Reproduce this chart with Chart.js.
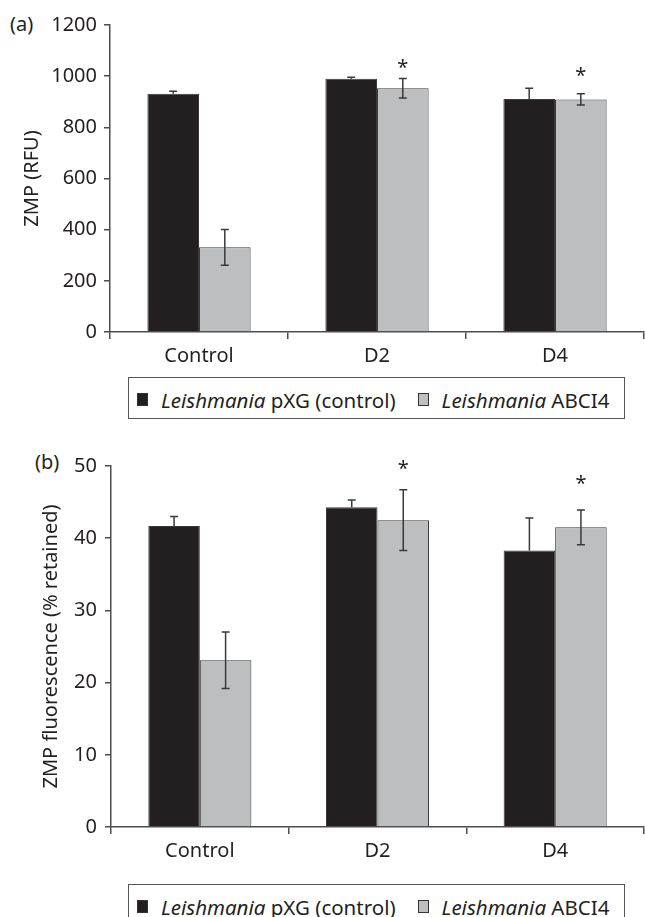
<!DOCTYPE html>
<html>
<head>
<meta charset="utf-8">
<script src="https://cdn.jsdelivr.net/npm/chart.js@4.4.0/dist/chart.umd.min.js"></script>
<style>
  body { margin: 0; width: 645px; height: 917px; overflow: hidden; background: #fff; position: relative; font-family: "Noto Sans", sans-serif; color: #231f20; }
  .box { position: absolute; left: 0; width: 645px; }
  .tag { position: absolute; font-size: 20px; line-height: 1; }
  .legend { position: absolute; left: 128px; width: 497px; height: 42px; border: 1px solid #555; box-sizing: border-box; display: flex; align-items: center; padding-top: 3px; font-size: 20.5px; white-space: nowrap; }
  .legend .sw { display: inline-block; width: 11px; height: 13px; border: 1px solid #333; box-sizing: border-box; margin: 0 13px 0 8px; }
  .legend .item { display: flex; align-items: center; margin-right: 14px; }
</style>
</head>
<body>
<div class="tag" style="left:10px;top:14px">(a)</div>
<div class="box" style="top:0;height:372px"><canvas id="chartA"></canvas></div>
<div class="legend" id="legendA" style="top:377px"></div>

<div class="tag" style="left:35px;top:452px">(b)</div>
<div class="box" style="top:440px;height:427px"><canvas id="chartB"></canvas></div>
<div class="legend" id="legendB" style="top:884px"></div>

<script>
/* --------------- Data --------------------- */
const categories = ["Control", "D2", "D4"];
const seriesGenus = ["Leishmania", "Leishmania"];
const seriesStrain = ["pXG (control)", "ABCI4"];
const seriesColors = ["#231f20", "#bcbec0"];

// (a) ZMP (RFU)
const rfuPxg = [931, 990, 911];
const rfuPxgErr = [10, 6, 42];
const rfuAbci4 = [331, 953, 909];
const rfuAbci4Err = [70, 38, 22];
const rfuStars = [null, 1046, 1017];

// (b) ZMP fluorescence (% retained)
const pctPxg = [41.7, 44.3, 38.3];
const pctPxgErr = [1.3, 1.0, 4.5];
const pctAbci4 = [23.1, 42.5, 41.5];
const pctAbci4Err = [3.9, 4.2, 2.4];
const pctStars = [null, 50.1, 48.0];

const font = { family: "Noto Sans", size: 20 };
const axisColor = "#4d4d4d";

/* --------------- Error bars + asterisks --------------------- */
// the black bars hide the lower whisker, so only the upper half is drawn there
const errorBars = {
  id: "errorBars",
  afterDatasetsDraw(chart, args, opts) {
    const ctx = chart.ctx;
    const y = chart.scales.y;
    ctx.save();
    ctx.strokeStyle = "#3a3a3a";
    ctx.lineWidth = 1.5;
    chart.data.datasets.forEach((ds, i) => {
      const upperOnly = i === 0;
      chart.getDatasetMeta(i).data.forEach((bar, j) => {
        const v = ds.data[j], e = ds.errors[j];
        const top = y.getPixelForValue(v + e);
        const bot = upperOnly ? bar.y : y.getPixelForValue(v - e);
        ctx.beginPath();
        ctx.moveTo(bar.x, top); ctx.lineTo(bar.x, bot);
        ctx.moveTo(bar.x - 4, top); ctx.lineTo(bar.x + 4, top);
        if (!upperOnly) { ctx.moveTo(bar.x - 4, bot); ctx.lineTo(bar.x + 4, bot); }
        ctx.stroke();
      });
    });
    ctx.fillStyle = "#231f20";
    ctx.font = "20px 'Noto Sans'";
    ctx.textAlign = "center";
    ctx.textBaseline = "middle";
    const gray = chart.getDatasetMeta(1).data;
    opts.stars.forEach((s, j) => {
      if (s == null) return;
      ctx.fillText("*", gray[j].x, y.getPixelForValue(s) + 4);
    });
    ctx.restore();
  }
};

function makeChart(id, legendId, a, aErr, b, bErr, stars, opt) {
  const chart = new Chart(document.getElementById(id), {
    type: "bar",
    plugins: [errorBars],
    data: {
      labels: categories,
      datasets: [
        { label: seriesGenus[0] + " " + seriesStrain[0], data: a, errors: aErr, backgroundColor: seriesColors[0] },
        { label: seriesGenus[1] + " " + seriesStrain[1], data: b, errors: bErr, backgroundColor: seriesColors[1] }
      ]
    },
    options: {
      responsive: true,
      maintainAspectRatio: false,
      animation: false,
      layout: { padding: { top: opt.top, right: 1, left: 0, bottom: 0 } },
      datasets: {
        bar: { categoryPercentage: 0.58, barPercentage: 1.0, borderWidth: 1, borderColor: "#3a3a3a" }
      },
      plugins: {
        legend: { display: false },
        tooltip: { enabled: false },
        errorBars: { stars: stars }
      },
      scales: {
        x: {
          afterFit: (s) => { s.height = 40; },
          border: { color: axisColor, width: 1.5 },
          grid: { offset: true, drawOnChartArea: false, drawTicks: true, tickLength: 7, color: axisColor, lineWidth: 1.5 },
          ticks: { color: "#231f20", font: font, padding: 5 }
        },
        y: {
          min: 0, max: opt.max,
          afterFit: (s) => { s.width = opt.left; },
          border: { color: axisColor, width: 1.5 },
          grid: { drawOnChartArea: false, drawTicks: true, tickLength: 6, color: axisColor, lineWidth: 1.5 },
          ticks: { stepSize: opt.step, color: "#231f20", font: font, padding: opt.left - 103, format: { useGrouping: false } },
          title: { display: true, text: opt.title, color: "#231f20", font: font, padding: { top: opt.titlePad, bottom: 0 } }
        }
      }
    }
  });

  // HTML legend from the datasets
  const box = document.getElementById(legendId);
  chart.data.datasets.forEach((ds, i) => {
    const item = document.createElement("span");
    item.className = "item";
    item.innerHTML = '<span class="sw" style="background:' + ds.backgroundColor + '"></span>' +
      "<i>" + seriesGenus[i] + "</i>&nbsp;" + seriesStrain[i];
    box.appendChild(item);
  });
  return chart;
}

makeChart("chartA", "legendA", rfuPxg, rfuPxgErr, rfuAbci4, rfuAbci4Err, rfuStars,
  { top: 25, max: 1200, step: 200, left: 110, title: "ZMP (RFU)", titlePad: 20 });
makeChart("chartB", "legendB", pctPxg, pctPxgErr, pctAbci4, pctAbci4Err, pctStars,
  { top: 26, max: 50, step: 10, left: 111, title: "ZMP fluorescence (% retained)", titlePad: 39 });
</script>
</body>
</html>
